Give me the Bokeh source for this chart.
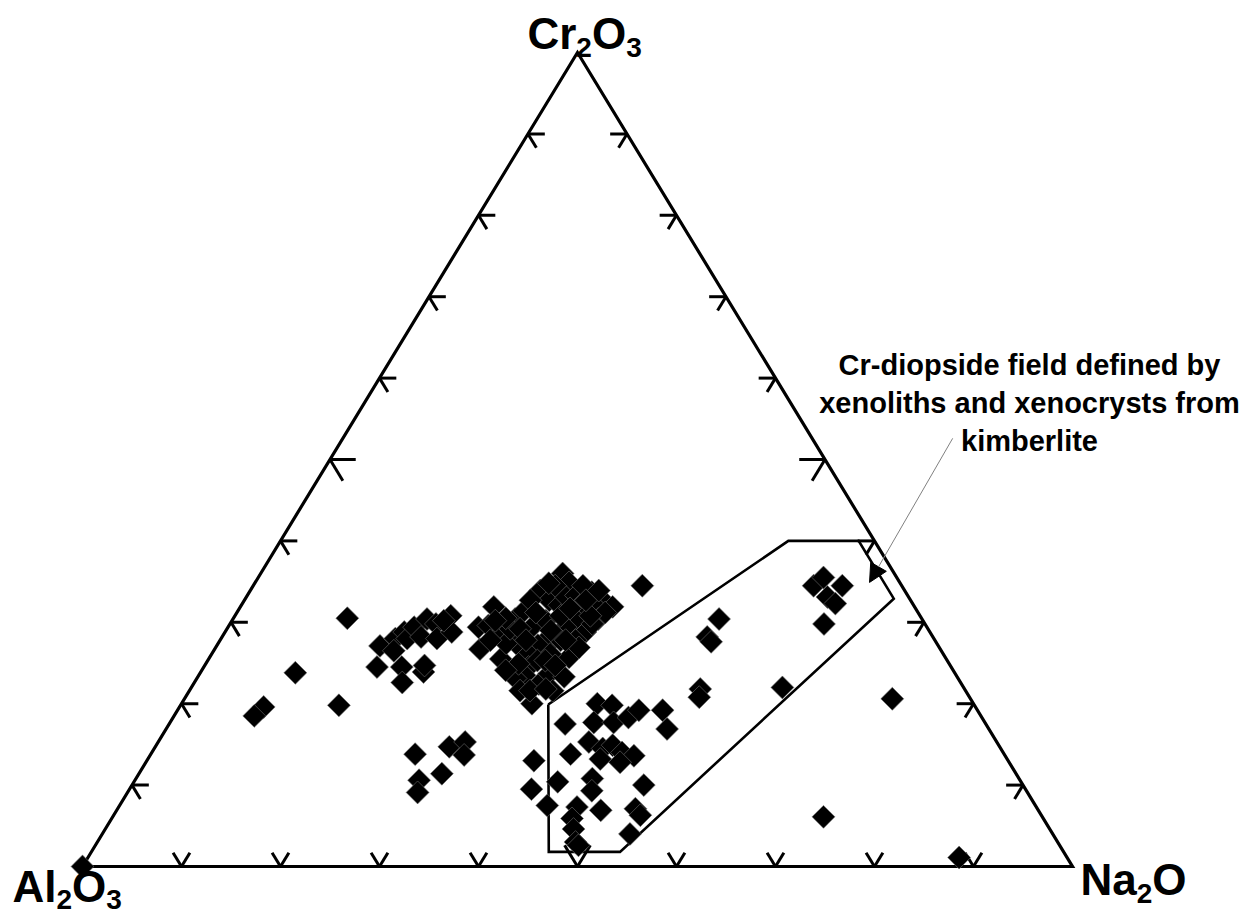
import math

from bokeh.embed import file_html
from bokeh.models import Arrow, ColumnDataSource, Label, NormalHead, Range1d
from bokeh.plotting import figure
from bokeh.resources import INLINE

# Clinopyroxene compositions, wt % of Al2O3 + Cr2O3 + Na2O (Al2O3 is the remainder)
cr2o3 = [
    30.5, 23.8, 19.6, 18.5, 19.8, 27.1, 24.5, 24.5, 22.6, 23.9, 24.7, 28.0, 28.8, 28.0,
    29.4, 28.2, 30.4, 29.8, 28.0, 30.8, 28.8, 30.2, 26.5,
    13.8, 14.7, 15.3, 13.7, 11.4, 10.6, 9.1,
    36.0, 33.9, 34.9, 33.7, 32.7, 31.9, 31.9, 29.4, 29.6, 26.7, 25.5, 28.8, 30.4, 31.4,
    29.4, 30.2, 32.7, 32.1, 33.1, 33.3, 32.3, 31.9, 30.4, 30.4, 29.4, 28.2, 27.8, 27.2,
    26.5, 27.4, 27.4, 28.8, 27.8, 25.7, 26.9, 24.5, 23.5, 23.1, 22.4, 23.7, 23.3, 20.0,
    29.8, 26.1, 25.3, 24.9, 34.5, 34.5, 32.7, 29.2, 27.8, 34.5, 31.2, 27.8, 21.6, 21.6,
    30.5, 29.2, 31.2, 29.0, 25.3, 30.8, 30.8, 31.7, 27.8, 24.1, 24.7, 32.7, 30.2, 34.8,
    21.6, 27.8, 33.9,
    17.5, 20.0, 19.8, 17.7, 17.7, 18.3, 19.2, 19.2, 16.9, 15.3, 14.5, 14.9, 14.0, 13.6,
    13.2, 12.8, 13.8, 13.0, 9.5, 10.4, 10.8, 9.3, 10.0, 7.5, 7.3, 6.9, 5.9, 7.1, 6.3,
    4.6, 4.0, 3.0, 2.6, 21.8,
    30.4, 28.2, 27.6, 21.8, 20.8, 22.0, 20.6, 6.1, 34.5, 35.5, 34.5, 33.1, 32.3, 29.8,
    1.1, 0.0,
]
na2o = [
    11.5, 9.6, 8.5, 8.1, 16.0, 16.5, 17.5, 20.0, 21.0, 22.5, 22.2, 17.6, 18.1, 18.8,
    18.8, 20.1, 19.6, 20.8, 21.8, 21.8, 22.9, 21.4, 18.2,
    26.7, 29.7, 31.0, 31.7, 30.6, 28.7, 29.3,
    30.5, 29.3, 31.7, 34.6, 36.2, 37.6, 25.6, 25.3, 26.2, 26.8, 29.5, 28.0, 28.5, 28.9,
    30.7, 31.7, 30.8, 32.1, 32.3, 33.2, 34.3, 35.9, 36.9, 34.6, 34.1, 33.7, 32.9, 32.4,
    31.5, 30.1, 29.1, 36.4, 35.9, 36.3, 36.7, 32.8, 32.9, 32.2, 34.9, 35.3, 37.0, 35.4,
    36.6, 34.2, 33.3, 31.6, 39.3, 30.5, 28.9, 28.6, 34.4, 33.3, 37.2, 27.3, 33.4, 36.7,
    27.5, 29.6, 30.2, 32.8, 34.1, 32.9, 35.9, 33.4, 30.9, 30.7, 35.4, 34.5, 26.6, 29.7,
    34.4, 34.9, 35.2,
    40.0, 42.0, 43.6, 42.8, 44.8, 46.0, 46.6, 49.0, 50.6, 43.5, 45.3, 46.1, 47.5, 48.9,
    45.7, 47.9, 42.4, 39.1, 40.6, 42.8, 46.1, 46.8, 51.7, 43.2, 46.3, 48.9, 46.5, 52.3,
    53.2, 47.3, 53.3, 48.3, 48.8, 35.9,
    49.1, 49.0, 49.7, 51.5, 51.9, 59.7, 71.5, 71.8, 56.6, 57.1, 59.5, 58.7, 59.9, 60.0,
    88.0, 0.0,
]

# Outline of the Cr-diopside field (xenoliths and xenocrysts from kimberlite)
field_cr2o3 = [19.9, 40.0, 40.0, 32.9, 1.8, 1.8]
field_na2o = [37.1, 51.3, 58.4, 65.5, 53.4, 46.2]

# Tick positions along each side, in %
tick_values = [10, 20, 30, 40, 50, 60, 70, 80, 90]


def to_xy(cr, na):
    """Ternary (Cr2O3, Na2O) -> plot coordinates; Al2O3 corner at the origin."""
    return na + cr / 2.0, cr


W, H = 1247, 916
p = figure(
    width=W, height=H,
    x_range=Range1d(-8.283, 117.68), y_range=Range1d(-6.143, 106.39),
    x_axis_type=None, y_axis_type=None,
    toolbar_location=None, output_backend="svg",
    min_border=0, outline_line_color=None,
    background_fill_color="white", border_fill_color="white",
)
p.grid.visible = False

# Triangle frame
corners = [(0, 0), (0, 100), (100, 0), (0, 0)]
fx, fy = zip(*[to_xy(c, n) for c, n in corners])
p.line(list(fx), list(fy), line_color="black", line_width=3.2, line_join="miter")

# Tick stubs: short segments of the two grid lines meeting each side
xs, ys = [], []
for t in tick_values:
    L = 2.6 if t == 50 else 1.7
    # base (Al2O3 - Na2O): constant Na2O and constant Al2O3 directions
    for a, b in [((L, t), (0, t)), ((0, t), (L, t - L))]:
        (x0, y0), (x1, y1) = to_xy(*a), to_xy(*b)
        xs.append([x0, x1]); ys.append([y0, y1])
    # left side (Al2O3 - Cr2O3): constant Cr2O3 and constant Al2O3
    for a, b in [((t, L), (t, 0)), ((t, 0), (t - L, L))]:
        (x0, y0), (x1, y1) = to_xy(*a), to_xy(*b)
        xs.append([x0, x1]); ys.append([y0, y1])
    # right side (Cr2O3 - Na2O): constant Cr2O3 and constant Na2O
    for a, b in [((t, 100 - t - L), (t, 100 - t)), ((t, 100 - t), (t - L, 100 - t))]:
        (x0, y0), (x1, y1) = to_xy(*a), to_xy(*b)
        xs.append([x0, x1]); ys.append([y0, y1])
p.multi_line(xs, ys, line_color="black", line_width=3)

# Cr-diopside field
gx, gy = zip(*[to_xy(c, n) for c, n in zip(field_cr2o3 + field_cr2o3[:1], field_na2o + field_na2o[:1])])
p.line(list(gx), list(gy), line_color="black", line_width=2.6, line_join="miter")

# Analyses
px, py = zip(*[to_xy(c, n) for c, n in zip(cr2o3, na2o)])
src = ColumnDataSource(dict(x=list(px), y=list(py)))
p.scatter("x", "y", source=src, marker="square", angle=math.pi / 4, size=16.2,
          fill_color="black", line_color="#6e6e6e", line_width=0.6)

# Annotation arrow pointing into the field
p.add_layout(Arrow(x_start=87.9, y_start=52.6, x_end=79.5, y_end=34.9,
                   line_color="#808080", line_width=1,
                   end=NormalHead(size=18, fill_color="black", line_color="black", line_width=1)))

FONT = "Liberation Sans"
LIFT = 0.37  # alphabetic-baseline correction, as a fraction of font size

note = ["Cr-diopside field defined by", "xenoliths and xenocrysts from", "kimberlite"]
NOTE_SIZE = 29
for i, line in enumerate(note):
    p.add_layout(Label(x=1029, y=H - 375 - 38 * i + LIFT * NOTE_SIZE,
                       x_units="screen", y_units="screen",
                       text=line, text_align="center", text_baseline="alphabetic",
                       text_font=FONT, text_font_style="bold",
                       text_font_size=f"{NOTE_SIZE}px", text_color="black"))

# Corner labels with subscripts
ADV = {"C": .722, "r": .389, "O": .778, "A": .722, "l": .278, "N": .722, "a": .556,
       "2": .556, "3": .556}
MAIN, SUB = 44, 28


def formula(parts, cr, na, dx, dy, drop=8):
    x, y = to_xy(cr, na)
    off = dx
    for txt, sub in parts:
        size = SUB if sub else MAIN
        p.add_layout(Label(x=x, y=y, x_offset=off,
                           y_offset=dy + LIFT * size - (drop if sub else 0),
                           text=txt, text_font=FONT, text_font_style="bold",
                           text_font_size=f"{size}px", text_baseline="alphabetic",
                           text_color="black"))
        off += sum(ADV[ch] for ch in txt) * size


formula([("Cr", False), ("2", True), ("O", False), ("3", True)], 100, 0, -50, 3)
formula([("Al", False), ("2", True), ("O", False), ("3", True)], 0, 0, -70, -36, drop=7)
formula([("Na", False), ("2", True), ("O", False)], 0, 100, 8, -29)

open("out.html", "w").write(file_html(p, INLINE))
